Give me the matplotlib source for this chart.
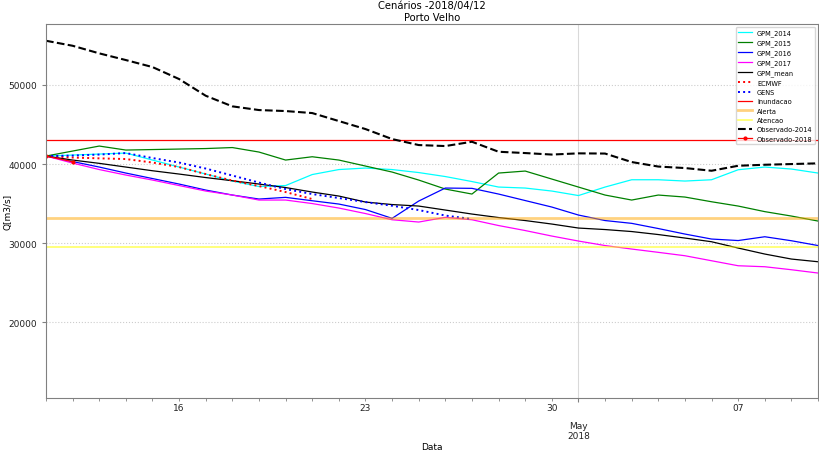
import pandas as pd
import matplotlib
matplotlib.use("Agg")
import matplotlib.pyplot as plt
import matplotlib.dates as mdates
from matplotlib.ticker import FuncFormatter

# Datas (previsao diaria a partir de 2018-04-11)
dias = pd.date_range("2018-04-11", periods=30, freq="D")

gpm_2014 = [41010, 41137, 41263, 41389, 40505, 39621, 38737, 37853, 37158, 37285,
            38674, 39305, 39495, 39305, 38926, 38421, 37790, 37095, 36969, 36590,
            36022, 37095, 38017, 38017, 37853, 38017, 39280, 39621, 39369, 38863]
gpm_2015 = [41010, 41642, 42273, 41768, 41831, 41895, 41958, 42084, 41516, 40505,
            40922, 40505, 39747, 38990, 37979, 36842, 36211, 38863, 39116, 38105,
            37095, 36085, 35453, 36085, 35832, 35238, 34695, 33990, 33432, 32800]
gpm_2016 = [41010, 40316, 39621, 38863, 38169, 37474, 36716, 36085, 35580, 35794,
            35365, 34948, 34253, 33142, 35327, 36969, 36931, 36211, 35390, 34569,
            33559, 32864, 32510, 31854, 31159, 30528, 30338, 30818, 30313, 29707]
gpm_2017 = [41010, 40126, 39305, 38611, 37979, 37285, 36590, 36085, 35453, 35453,
            35011, 34443, 33748, 32965, 32675, 33268, 32965, 32233, 31601, 30906,
            30275, 29707, 29265, 28848, 28419, 27787, 27155, 27029, 26651, 26234]
gpm_mean = [41010, 40505, 40088, 39621, 39154, 38737, 38295, 37891, 37474, 37032,
            36464, 35958, 35200, 34885, 34695, 34190, 33685, 33243, 32864, 32422,
            31917, 31727, 31475, 31096, 30654, 30187, 29391, 28633, 28001, 27660]
ecmwf = [41010, 40821, 40720, 40632, 40190, 39621, 38737, 37916, 37221, 36464, 35580]
gens = [41010, 41074, 41200, 41389, 40758, 40189, 39432, 38548, 37663, 36842,
        36211, 35706, 35200, 34733, 34190, 33495, 33053]
obs_2014 = [55573, 54941, 53981, 53135, 52251, 50736, 48627, 47288, 46820, 46694,
            46441, 45431, 44420, 43158, 42400, 42273, 42816, 41553, 41389, 41200,
            41351, 41326, 40253, 39684, 39495, 39154, 39785, 39912, 40000, 40088]
obs_2018 = [41010, 40300]

# Cotas de referencia
inundacao = 43000
alerta = 33200
atencao = 29500

fig = plt.figure(figsize=(8.2, 4.56), dpi=100)
ax = fig.add_axes([0.0561, 0.125, 0.9415, 0.82])

ax.plot(dias, gpm_2014, color="cyan", lw=0.9, label="GPM_2014")
ax.plot(dias, gpm_2015, color="green", lw=0.9, label="GPM_2015")
ax.plot(dias, gpm_2016, color="blue", lw=0.9, label="GPM_2016")
ax.plot(dias, gpm_2017, color="magenta", lw=0.9, label="GPM_2017")
ax.plot(dias, gpm_mean, color="black", lw=0.9, label="GPM_mean")
ax.plot(dias[:len(ecmwf)], ecmwf, color="red", ls=":", lw=1.4, label="ECMWF")
ax.plot(dias[:len(gens)], gens, color="blue", ls=":", lw=1.4, label="GENS")
ax.axhline(inundacao, color="red", lw=0.9, label="Inundacao")
ax.axhline(alerta, color="orange", lw=2, alpha=0.5, label="Alerta")
ax.axhline(atencao, color="yellow", lw=1.2, alpha=0.6, label="Atencao")
ax.plot(dias, obs_2014, color="black", ls="--", lw=1.5, label="Observado-2014")
ax.plot(dias[:len(obs_2018)], obs_2018, color="red", marker=".", ms=4, lw=0.9,
        label="Observado-2018")

ax.set_xlim(dias[0], dias[-1])
ax.set_ylim(10450, 57680)

# eixo de datas: dias com rotulo nas segundas, mes como major
ax.xaxis.set_major_locator(mdates.MonthLocator())
ax.xaxis.set_major_formatter(FuncFormatter(
    lambda x, pos: mdates.num2date(x).strftime("\n%b\n%Y")))
ax.xaxis.set_minor_locator(mdates.DayLocator())
ax.xaxis.set_minor_formatter(FuncFormatter(
    lambda x, pos: mdates.num2date(x).strftime("%d") if mdates.num2date(x).weekday() == 0 else ""))

ax.tick_params(axis="both", which="both", labelsize=6.5, colors="#222222")
ax.tick_params(axis="both", which="major", length=3, color="gray")
ax.tick_params(axis="x", which="major", pad=6)
ax.tick_params(axis="x", which="minor", length=2, color="gray", pad=1.5)
for s in ax.spines.values():
    s.set_color("gray")
    s.set_linewidth(0.8)

ax.yaxis.grid(True, ls=":", color="0.8", lw=0.8)
ax.xaxis.grid(True, which="major", ls="-", color="0.85", lw=0.8)

ax.set_title("Cenários -2018/04/12\nPorto Velho", fontsize=7.2, pad=3)
ax.set_xlabel("Data", fontsize=6.5)
ax.xaxis.set_label_coords(0.5, -0.118)
ax.set_ylabel("Q[m3/s]", fontsize=6.5)
ax.yaxis.set_label_coords(-0.044, 0.5)
ax.legend(loc="upper right", fontsize=4.8, borderaxespad=0.4)

fig.savefig("out.png", dpi=100, transparent=True)
